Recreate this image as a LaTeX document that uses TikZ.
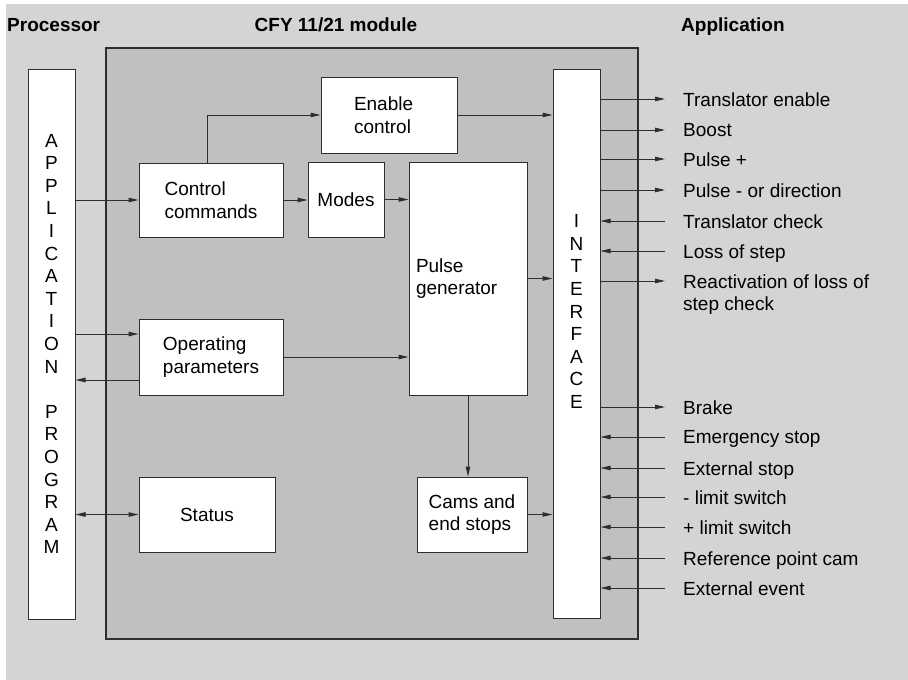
\documentclass[tikz,border=0pt]{standalone}
\usepackage{fontspec}
\setmainfont{Liberation Sans}
\usepackage{tikz}
\usetikzlibrary{positioning,arrows.meta}
\definecolor{ink}{HTML}{2E2E2E}
\definecolor{paper}{HTML}{D4D4D4}
\definecolor{board}{HTML}{C0C0C0}
\newcommand{\txt}{\fontsize{19}{22.6}\selectfont}
\tikzset{
  blk/.style={draw=ink, fill=white, line width=1pt, inner sep=0pt, align=left, font=\txt},
  wire/.style={draw=ink, line width=1pt},
  outsig/.style={->},
  insig/.style={<-},
  lbl/.style={font=\txt, align=left, inner sep=0pt, anchor=north west},
  head/.style={font=\txt\bfseries, inner sep=0pt},
}

\begin{document}
\begin{tikzpicture}[x=1pt, y=1pt, >={Triangle[length=10pt,width=4.5pt]}]
\useasboundingbox (0,0) rectangle (908,-680);
\fill[paper] (6,-4) rectangle (908,-680);
% headers
\node[head, anchor=base west] (hproc) at (7,-31) {Processor};
\node[head, anchor=base] (hmod) at (336,-31) {CFY 11/21 module};
\node[head, anchor=base west] (happ) at (681,-31) {Application};
% module and its blocks
\node[draw=ink, fill=board, line width=1.3pt, minimum width=532, minimum height=591, inner sep=0pt] (module) at (372,-343.5) {};
\node[blk, align=center, minimum width=47, minimum height=550] (app) at (51.5,-344)
  {A\\P\\P\\L\\I\\C\\A\\T\\I\\O\\N\\[22.6pt]P\\R\\O\\G\\R\\A\\M};
\node[blk, minimum width=47, minimum height=549,
  label={[font=\txt, align=center, inner sep=0pt, yshift=32pt]center:I\\N\\T\\E\\R\\F\\A\\C\\E}] (iface) at (576.5,-343.5) {};
\node[blk, text width=70, minimum width=136, minimum height=76] (enable) at (389,-115) {Enable\\control};
\node[blk, minimum width=144, minimum height=74] (ctrl) at (211,-200) {Control\\commands};
\node[blk, minimum width=76, minimum height=75] (modes) at (346,-199.5) {Modes};
\node[blk, text width=104, minimum width=118, minimum height=233] (pulse) at (468,-278.5) {Pulse\\generator};
\node[blk, minimum width=144, minimum height=76] (oper) at (211,-357) {Operating\\parameters};
\node[blk, minimum width=136, minimum height=75] (status) at (207,-514.5) {Status};
\node[blk, minimum width=110, minimum height=75] (cams) at (472,-514.5) {Cams and\\end stops};
% inner connectors
\coordinate (opIn) at ([yshift=23pt]oper.west);
\coordinate (opOut) at ([yshift=-23pt]oper.west);
\draw[wire, ->] (app.east |- ctrl.west) -- (ctrl.west);
\draw[wire, ->] (ctrl.east) -- (ctrl.east -| modes.west);
\draw[wire, ->] (modes.east) -- (modes.east -| pulse.west);
\draw[wire, ->] ([xshift=-4pt]ctrl.north) |- (enable.west);
\draw[wire, ->] (enable.east) -- (enable.east -| iface.west);
\draw[wire, ->] (app.east |- opIn) -- (opIn);
\draw[wire, ->] (opOut) -- (app.east |- opOut);
\draw[wire, ->] (oper.east) -- (oper.east -| pulse.west);
\draw[wire, ->] (pulse.east) -- (pulse.east -| iface.west);
\draw[wire, ->] (pulse.south) -- (pulse.south |- cams.north);
\draw[wire, ->] (cams.east) -- (cams.east -| iface.west);
\draw[wire, <->] (status.west) -- (status.west -| app.east);
% signals to and from the application
\foreach \yy/\sig/\way [count=\i] in {
  99/Translator enable/outsig, 130/Boost/outsig, 159/Pulse +/outsig,
  190/Pulse - or direction/outsig, 221/Translator check/insig,
  251/Loss of step/insig, 281/{Reactivation of loss of\\step check}/outsig,
  407/Brake/outsig, 437/Emergency stop/insig, 468/External stop/insig,
  497/- limit switch/insig, 527/+ limit switch/insig,
  558/Reference point cam/insig, 588/External event/insig} {
  \coordinate (end\i) at (665,-\yy);
  \draw[wire, \way] (iface.east |- end\i) -- (end\i);
  \node[lbl] (sig\i) at (683,-\yy+6.8) {\sig};
}
\end{tikzpicture}
\end{document}
